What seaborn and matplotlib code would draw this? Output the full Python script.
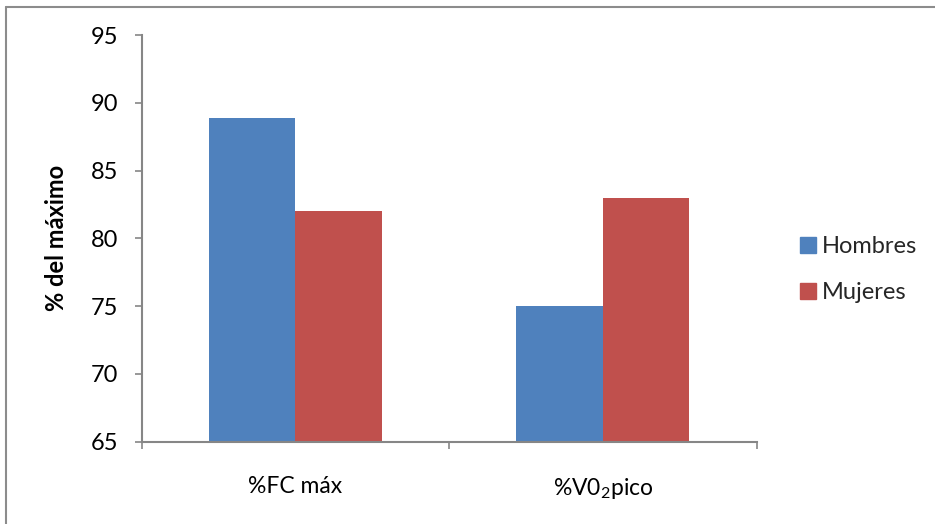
import matplotlib
matplotlib.use("Agg")
import matplotlib.pyplot as plt
import seaborn as sns
import pandas as pd
from matplotlib.lines import Line2D
from matplotlib.ticker import FixedLocator

# Data
categories = ["%FC máx", "%V0$_{\\mathrm{2}}$pico"]
hombres = [88.9, 75.0]
mujeres = [82.0, 83.0]
series_names = ["Hombres", "Mujeres"]
y_ticks = [65, 70, 75, 80, 85, 90, 95]

df = pd.DataFrame({
    "categoria": categories * 2,
    "valor": hombres + mujeres,
    "serie": [series_names[0]] * 2 + [series_names[1]] * 2,
})

sns.set_theme(style="white")
plt.rcParams["font.family"] = ["Lato", "DejaVu Sans"]
plt.rcParams["mathtext.fontset"] = "custom"
plt.rcParams["mathtext.rm"] = "Lato"
plt.rcParams["mathtext.it"] = "Lato:italic"
plt.rcParams["mathtext.bf"] = "Lato:bold"

palette = {"Hombres": "#4F81BD", "Mujeres": "#C0504D"}
grey = "#868686"

fig = plt.figure(figsize=(9.35, 5.24), dpi=100)
ax = fig.add_axes([0.1516, 0.157, 0.6576, 0.776])

sns.barplot(data=df, x="categoria", y="valor", hue="serie", palette=palette,
            width=0.563, dodge=True, saturation=1, ax=ax, legend=False,
            edgecolor="none")

ax.set_ylim(65, 95)
ax.set_xlim(-0.5, 1.5)
ax.set_yticks(y_ticks)
ax.set_yticklabels([str(t) for t in y_ticks], fontsize=17, color="black")
ax.tick_params(axis="y", length=5, width=1.2, color=grey, pad=12, left=True)
ax.tick_params(axis="x", which="major", length=0, pad=25, labelsize=16.5, labelcolor="black")
ax.xaxis.set_minor_locator(FixedLocator([-0.5, 0.5, 1.5]))
ax.tick_params(axis="x", which="minor", length=5, width=1.2, color=grey, bottom=True)

for side in ["top", "right"]:
    ax.spines[side].set_visible(False)
for side in ["left", "bottom"]:
    ax.spines[side].set_color(grey)
    ax.spines[side].set_linewidth(1.5)

ax.set_xlabel("")
ax.set_ylabel("% del máximo", fontsize=17, fontweight="bold", color="black")
ax.yaxis.set_label_coords(-0.12, 0.5)

# Legend with square markers
handles = [Line2D([0], [0], marker="s", linestyle="none", markersize=11,
                  markerfacecolor=palette[s], markeredgecolor=palette[s])
           for s in series_names]
fig.legend(handles, series_names, loc="center left",
           bbox_to_anchor=(0.829, 0.485), frameon=False, fontsize=17,
           handletextpad=0.1, labelspacing=1.05, handlelength=1.0)

# Outer chart border
fig.add_artist(Line2D([6 / 935, 1.0], [1 - 7 / 524, 1 - 7 / 524],
                      transform=fig.transFigure, color="#8c8c8c", linewidth=1.5))
fig.add_artist(Line2D([6 / 935, 6 / 935], [0.0, 1 - 7 / 524],
                      transform=fig.transFigure, color="#8c8c8c", linewidth=1.5))

fig.savefig("out.png", dpi=100, facecolor="white")
